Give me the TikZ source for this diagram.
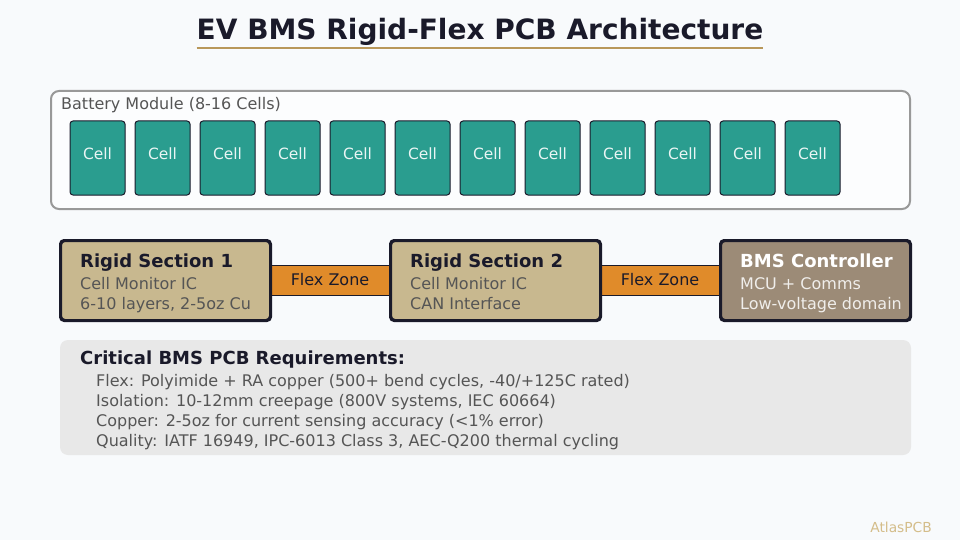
\documentclass[tikz,border=0pt]{standalone}
\usepackage{fontspec}
\setmainfont{DejaVu Sans}
\definecolor{bg}{HTML}{F8FAFC}
\definecolor{ink}{HTML}{1A1A2A}
\definecolor{gold}{HTML}{B8975A}
\definecolor{teal}{HTML}{2A9D8F}
\definecolor{tan}{HTML}{C8B88F}
\definecolor{flexor}{HTML}{E08B2A}
\definecolor{brownc}{HTML}{9C8B77}
\definecolor{subgray}{HTML}{555555}
\definecolor{reqbg}{HTML}{E8E8E8}
\definecolor{modgray}{HTML}{999999}
\definecolor{wm}{HTML}{D4BD8A}
\tikzset{
  cellbox/.style={draw=ink, line width=1pt, fill=teal, rounded corners=3pt, minimum width=55pt, minimum height=74pt, inner sep=0pt},
  celltxt/.style={inner sep=0pt, text=white!90!teal, font=\fontsize{15.5}{17}\selectfont},
  rigidbox/.style={draw=ink, line width=2pt, rounded corners=4pt, minimum width=209pt, minimum height=79pt, inner sep=0pt},
  flexbox/.style={draw=ink, line width=1pt, fill=flexor, minimum width=120pt, minimum height=30pt, inner sep=0pt, font=\fontsize{16}{18}\selectfont, text=ink},
  headtxt/.style={anchor=base west, font=\bfseries\fontsize{18}{20}\selectfont, inner sep=0pt},
  subtxt/.style={anchor=base west, font=\fontsize{16}{18}\selectfont, inner sep=0pt},
  reqtxt/.style={anchor=base west, font=\fontsize{16}{18}\selectfont, inner sep=0pt, text=subgray},
}
\begin{document}
\begin{tikzpicture}[x=1pt,y=-1pt]
\fill[bg] (0,0) rectangle (960,540);
\useasboundingbox (0,0) rectangle (960,540);
% title
\node[anchor=base, font=\bfseries\fontsize{28}{32}\selectfont, text=ink, inner sep=0pt] (title) at (480,40) {EV BMS Rigid-Flex PCB Architecture};
\draw[gold, line width=2pt] (title.south west |- 0,48) -- (title.south east |- 0,48);
% battery module
\node[draw=modgray, line width=2pt, fill=white!60!bg, rounded corners=8pt, minimum width=859pt, minimum height=118pt, inner sep=0pt] (module) at (480.5,150) {};
\node[anchor=base west, font=\fontsize{16}{18}\selectfont, text=subgray, inner sep=0pt] (modlabel) at (61,110) {Battery Module (8-16 Cells)};
\foreach \i in {0,...,11}{
  \node[cellbox] (cell\i) at ({97.5+65*\i},158) {};
  \node[celltxt] (celltext\i) at ([yshift=4pt]cell\i.center) {Cell};
}
% rigid-flex chain
\node[rigidbox, fill=tan] (r1) at (165.5,280.5) {};
\node[rigidbox, fill=tan] (r2) at (495.5,280.5) {};
\node[rigidbox, fill=brownc, minimum width=189pt] (ctrl) at (815.5,280.5) {};
\node[flexbox] (f1) at (330,280) {Flex Zone};
\node[flexbox] (f2) at (660,280) {Flex Zone};
\draw[ink, line width=2pt, rounded corners=4pt] (r1.south west) rectangle (r1.north east);
\draw[ink, line width=2pt, rounded corners=4pt] (r2.south west) rectangle (r2.north east);
\draw[ink, line width=2pt, rounded corners=4pt] (ctrl.south west) rectangle (ctrl.north east);
\node[headtxt, text=ink] (r1h) at (80,267) {Rigid Section 1};
\node[subtxt, text=subgray] (r1a) at (80,289.5) {Cell Monitor IC};
\node[subtxt, text=subgray] (r1b) at (80,309.5) {6-10 layers, 2-5oz Cu};
\node[headtxt, text=ink] (r2h) at (410,267) {Rigid Section 2};
\node[subtxt, text=subgray] (r2a) at (410,289.5) {Cell Monitor IC};
\node[subtxt, text=subgray] (r2b) at (410,309.5) {CAN Interface};
\node[headtxt, text=white] (ch) at (740,267) {BMS Controller};
\node[subtxt, text=white!85!brownc] (ca) at (740,289.5) {MCU + Comms};
\node[subtxt, text=white!85!brownc] (cb) at (740,309.5) {Low-voltage domain};
% requirements
\node[fill=reqbg, rounded corners=8pt, minimum width=851pt, minimum height=115pt, inner sep=0pt] (req) at (485.5,397.5) {};
\node[headtxt, text=ink] (reqh) at (80,364.5) {Critical BMS PCB Requirements:};
\node[reqtxt] (q1) at (96,386.5) {Flex: Polyimide + RA copper (500+ bend cycles, -40/+125C rated)};
\node[reqtxt] (q2) at (96,406.5) {Isolation: 10-12mm creepage (800V systems, IEC 60664)};
\node[reqtxt] (q3) at (96,426.5) {Copper: 2-5oz for current sensing accuracy (<1\% error)};
\node[reqtxt] (q4) at (96,446.5) {Quality: IATF 16949, IPC-6013 Class 3, AEC-Q200 thermal cycling};
% watermark
\node[anchor=base east, font=\fontsize{13.8}{15}\selectfont, text=wm, inner sep=0pt] (wmark) at (932,532) {AtlasPCB};
\end{tikzpicture}
\end{document}
